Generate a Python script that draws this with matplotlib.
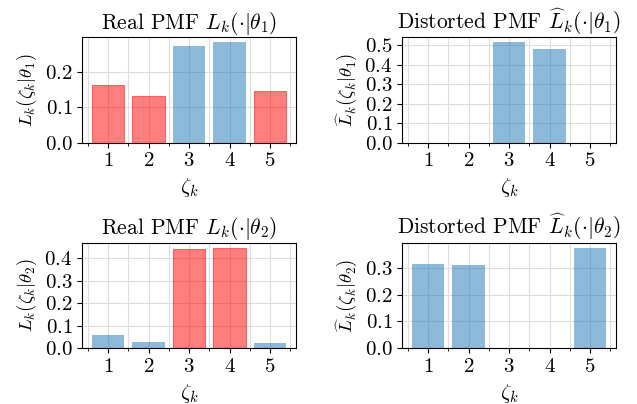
import numpy as np
import matplotlib
matplotlib.use("Agg")
import matplotlib.pyplot as plt
from matplotlib.ticker import MultipleLocator

plt.rcParams['font.family'] = 'serif'
plt.rcParams['font.serif'] = ['cmr10']
plt.rcParams['mathtext.fontset'] = 'cm'
plt.rcParams['axes.formatter.use_mathtext'] = True
plt.rcParams['font.size'] = 15

# outcomes
zeta = [1, 2, 3, 4, 5]

# real and distorted PMFs for theta_1 and theta_2
real_theta1 = [0.164, 0.131, 0.274, 0.285, 0.146]
dist_theta1 = [0.0, 0.0, 0.517, 0.483, 0.0]
real_theta2 = [0.060, 0.029, 0.441, 0.446, 0.025]
dist_theta2 = [0.315, 0.311, 0.0, 0.0, 0.374]

# which outcomes are dropped (red) in the real PMF
red_theta1 = [True, True, False, False, True]
red_theta2 = [False, False, True, True, False]

BLUE = 'tab:blue'
RED = 'red'


def draw(ax, values, reds, title, ylabel):
    for z, v, r in zip(zeta, values, reds):
        if r:
            ax.bar(z, v, width=0.8, color=RED, alpha=0.5, edgecolor=RED, linewidth=0.8)
        else:
            ax.bar(z, v, width=0.8, color=BLUE, alpha=0.5, linewidth=0)
    ax.set_title(title, fontsize=15.5)
    ax.set_ylabel(ylabel, fontsize=13.5)
    ax.set_xlabel(r'$\zeta_k$', fontsize=15)
    ax.set_xticks(zeta)
    ax.xaxis.set_minor_locator(MultipleLocator(0.5))
    ax.yaxis.set_major_locator(MultipleLocator(0.1))
    ax.tick_params(labelsize=15)
    ax.grid(True, which='major', color='#dddddd', linewidth=0.8)
    ax.grid(True, which='minor', axis='x', color='#dddddd', linewidth=0.8)
    ax.set_axisbelow(True)


fig, axes = plt.subplots(2, 2, figsize=(6.37, 4.04), dpi=100)

draw(axes[0, 0], real_theta1, red_theta1,
     r'Real PMF $L_k(\cdot|\theta_1)$', r'$L_k(\zeta_k|\theta_1)$')
draw(axes[0, 1], dist_theta1, [False] * 5,
     r'Distorted PMF $\widehat{L}_k(\cdot|\theta_1)$', r'$\widehat{L}_k(\zeta_k|\theta_1)$')
draw(axes[1, 0], real_theta2, red_theta2,
     r'Real PMF $L_k(\cdot|\theta_2)$', r'$L_k(\zeta_k|\theta_2)$')
draw(axes[1, 1], dist_theta2, [False] * 5,
     r'Distorted PMF $\widehat{L}_k(\cdot|\theta_2)$', r'$\widehat{L}_k(\zeta_k|\theta_2)$')

plt.subplots_adjust(left=0.129, right=0.967, top=0.908, bottom=0.138,
                    wspace=0.497, hspace=0.95)
plt.savefig('out.png', dpi=100)
